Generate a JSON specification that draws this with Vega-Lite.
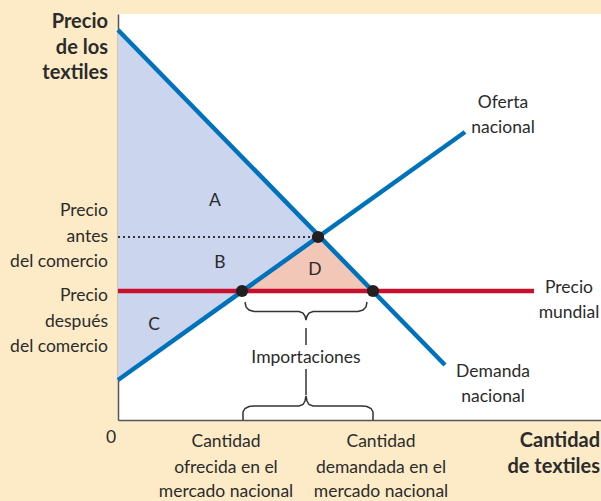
{
  "$schema": "https://vega.github.io/schema/vega-lite/v6.json",
  "width": 483,
  "height": 406,
  "padding": {"left": 118, "top": 14, "right": 0, "bottom": 81},
  "autosize": {"type": "none"},
  "background": "#fdebc8",
  "config": {
    "view": {"fill": "white", "stroke": null},
    "text": {"font": "Lato", "fontSize": 17.5, "color": "#2b2b2b"}
  },
  "encoding": {
    "x": {"field": "x", "type": "quantitative", "scale": {"domain": [0, 483], "nice": false, "zero": false},
      "axis": {"title": null, "labels": false, "ticks": false, "grid": false, "domain": true, "domainColor": "#555555", "domainWidth": 1.5}},
    "y": {"field": "y", "type": "quantitative", "scale": {"domain": [0, 406], "nice": false, "zero": false},
      "axis": {"title": null, "labels": false, "ticks": false, "grid": false, "domain": true, "domainColor": "#555555", "domainWidth": 1.5}}
  },
  "layer": [
    {
      "data": {"values": [
        {"x": 0, "y": 390, "y2": 40},
        {"x": 200, "y": 183, "y2": 183}
      ]},
      "mark": {"type": "area", "color": "#cbd5ee", "opacity": 1},
      "encoding": {"y2": {"field": "y2"}}
    },
    {
      "data": {"values": [
        {"x": 124, "y": 129, "y2": 129},
        {"x": 200, "y": 183, "y2": 129},
        {"x": 255, "y": 129, "y2": 129}
      ]},
      "mark": {"type": "area", "color": "#f2c7b8", "opacity": 1},
      "encoding": {"y2": {"field": "y2"}}
    },
    {
      "data": {"values": [
        {"x": 0, "y": 183},
        {"x": 200, "y": 183}
      ]},
      "mark": {"type": "line", "color": "#333333", "strokeWidth": 1.8, "strokeDash": [2, 3]},
      "encoding": {}
    },
    {
      "data": {"values": [
        {"g": "demanda", "x": 0, "y": 390},
        {"g": "demanda", "x": 327, "y": 55},
        {"g": "oferta", "x": 0, "y": 40},
        {"g": "oferta", "x": 347, "y": 288}
      ]},
      "mark": {"type": "line", "color": "#0072bc", "strokeWidth": 4.5},
      "encoding": {"detail": {"field": "g"}}
    },
    {
      "data": {"values": [
        {"x": 0, "y": 129},
        {"x": 416, "y": 129}
      ]},
      "mark": {"type": "line", "color": "#c8102e", "strokeWidth": 4.5},
      "encoding": {}
    },
    {
      "data": {"values": [
        {"x": 124, "y": 129},
        {"x": 200, "y": 183},
        {"x": 255, "y": 129}
      ]},
      "mark": {"type": "circle", "color": "#231f20", "size": 150, "opacity": 1}
    },
    {
      "data": {"values": [
        {"g": "ub", "i": 0, "x": 127, "y": 118},
        {"g": "ub", "i": 1, "x": 128, "y": 113},
        {"g": "ub", "i": 2, "x": 131, "y": 110},
        {"g": "ub", "i": 3, "x": 136, "y": 108.5},
        {"g": "ub", "i": 4, "x": 181, "y": 108.5},
        {"g": "ub", "i": 5, "x": 185, "y": 107},
        {"g": "ub", "i": 6, "x": 187, "y": 104},
        {"g": "ub", "i": 7, "x": 188, "y": 100},
        {"g": "ub", "i": 8, "x": 189, "y": 104},
        {"g": "ub", "i": 9, "x": 191, "y": 107},
        {"g": "ub", "i": 10, "x": 195, "y": 108.5},
        {"g": "ub", "i": 11, "x": 240, "y": 108.5},
        {"g": "ub", "i": 12, "x": 245, "y": 110},
        {"g": "ub", "i": 13, "x": 248, "y": 113},
        {"g": "ub", "i": 14, "x": 249, "y": 118},
        {"g": "lb", "i": 0, "x": 125, "y": 0},
        {"g": "lb", "i": 1, "x": 125, "y": 8},
        {"g": "lb", "i": 2, "x": 127, "y": 11.5},
        {"g": "lb", "i": 3, "x": 131, "y": 13.5},
        {"g": "lb", "i": 4, "x": 136, "y": 14},
        {"g": "lb", "i": 5, "x": 181, "y": 14},
        {"g": "lb", "i": 6, "x": 185, "y": 15.5},
        {"g": "lb", "i": 7, "x": 187, "y": 19},
        {"g": "lb", "i": 8, "x": 188, "y": 24},
        {"g": "lb", "i": 9, "x": 189, "y": 19},
        {"g": "lb", "i": 10, "x": 191, "y": 15.5},
        {"g": "lb", "i": 11, "x": 195, "y": 14},
        {"g": "lb", "i": 12, "x": 244, "y": 14},
        {"g": "lb", "i": 13, "x": 249, "y": 13.5},
        {"g": "lb", "i": 14, "x": 253, "y": 11.5},
        {"g": "lb", "i": 15, "x": 255, "y": 8},
        {"g": "lb", "i": 16, "x": 255, "y": 0},
        {"g": "v1", "i": 0, "x": 188, "y": 92},
        {"g": "v1", "i": 1, "x": 188, "y": 75},
        {"g": "v2", "i": 0, "x": 188, "y": 51},
        {"g": "v2", "i": 1, "x": 188, "y": 25}
      ]},
      "mark": {"type": "line", "color": "#333333", "strokeWidth": 1.5},
      "encoding": {"detail": {"field": "g"}, "order": {"field": "i", "type": "quantitative"}}
    },
    {
      "data": {"values": [
        {"t": "Precio", "x": -10, "y": 204},
        {"t": "antes", "x": -10, "y": 178.3},
        {"t": "del comercio", "x": -10, "y": 152.7},
        {"t": "Precio", "x": -10, "y": 119.3},
        {"t": "después", "x": -10, "y": 93.3},
        {"t": "del comercio", "x": -10, "y": 68.3}
      ]},
      "mark": {"type": "text", "align": "right", "baseline": "alphabetic"},
      "encoding": {"text": {"field": "t"}}
    },
    {
      "data": {"values": [
        {"t": "Precio", "x": -10, "y": 391.7},
        {"t": "de los", "x": -10, "y": 365.7},
        {"t": "textiles", "x": -10, "y": 341}
      ]},
      "mark": {"type": "text", "align": "right", "baseline": "alphabetic", "fontWeight": "bold", "fontSize": 20},
      "encoding": {"text": {"field": "t"}}
    },
    {
      "data": {"values": [
        {"t": "Cantidad", "x": 482, "y": -26.7},
        {"t": "de textiles", "x": 482, "y": -52.7}
      ]},
      "mark": {"type": "text", "align": "right", "baseline": "alphabetic", "fontWeight": "bold", "fontSize": 20},
      "encoding": {"text": {"field": "t"}}
    },
    {
      "data": {"values": [
        {"t": "A", "x": 97, "y": 214},
        {"t": "B", "x": 102, "y": 151.7},
        {"t": "C", "x": 36, "y": 90},
        {"t": "D", "x": 197, "y": 145},
        {"t": "Oferta", "x": 385, "y": 311.7},
        {"t": "nacional", "x": 385, "y": 286.7},
        {"t": "Precio", "x": 451, "y": 126.7},
        {"t": "mundial", "x": 451, "y": 101.7},
        {"t": "Demanda", "x": 375, "y": 43.3},
        {"t": "nacional", "x": 375, "y": 18.3},
        {"t": "Importaciones", "x": 188, "y": 56.7},
        {"t": "0", "x": -7, "y": -23},
        {"t": "Cantidad", "x": 108, "y": -26.7},
        {"t": "ofrecida en el", "x": 108, "y": -52.7},
        {"t": "mercado nacional", "x": 108, "y": -77},
        {"t": "Cantidad", "x": 263, "y": -26.7},
        {"t": "demandada en el", "x": 263, "y": -52.7},
        {"t": "mercado nacional", "x": 263, "y": -77}
      ]},
      "mark": {"type": "text", "align": "center", "baseline": "alphabetic"},
      "encoding": {"text": {"field": "t"}}
    }
  ]
}
